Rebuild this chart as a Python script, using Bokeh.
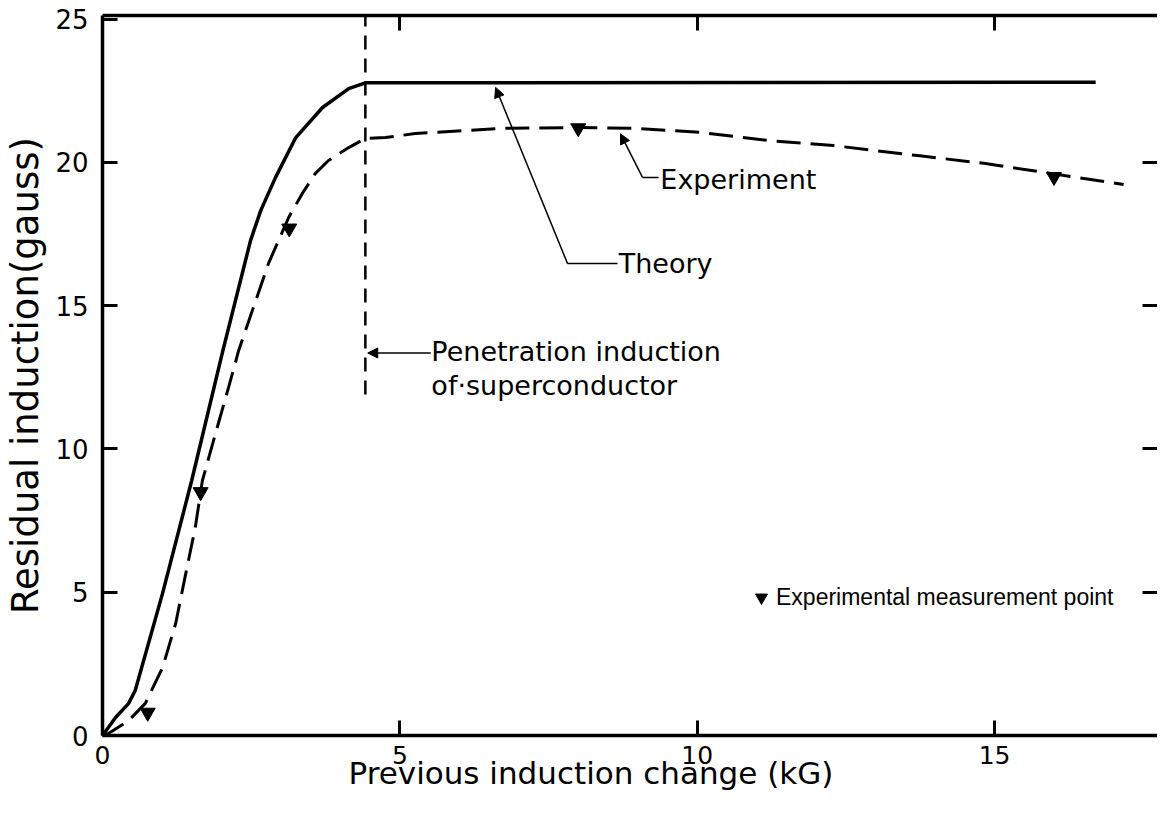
from bokeh.plotting import figure
from bokeh.models import (Range1d, LinearAxis, FixedTicker, Label, Arrow, NormalHead,
                          Legend, LegendItem, Title)
from bokeh.embed import file_html
from bokeh.resources import INLINE

# ---- data ----
theory_x = [0, 0.22, 0.44, 0.55, 1.01, 1.50, 2.02, 2.49, 2.66, 2.91, 3.25, 3.70, 4.14, 4.42, 16.70]
theory_y = [0, 0.63, 1.12, 1.57, 4.96, 8.90, 13.4, 17.28, 18.32, 19.48, 20.87, 21.92, 22.58, 22.78, 22.80]

experiment_x = [0, 0.10, 0.44, 0.72, 1.01, 1.23, 1.40, 1.56, 1.68, 1.90, 2.12, 2.29, 2.79, 3.13,
                3.36, 3.58, 3.80, 4.14, 4.42, 4.76, 5.26, 6.69, 7.99, 8.93, 10.06, 11.18, 12.29,
                13.71, 14.82, 15.94, 17.17]
experiment_y = [0, 0.07, 0.52, 1.12, 2.37, 3.91, 5.65, 7.26, 8.90, 10.54, 12.15, 13.44, 16.47, 18.08,
                18.92, 19.62, 20.07, 20.52, 20.84, 20.87, 21.01, 21.19, 21.22, 21.19, 21.05, 20.77, 20.59,
                20.24, 19.97, 19.62, 19.23]

measured_x = [0.76, 1.65, 3.14, 8.0, 16.0]
measured_y = [0.8, 8.5, 17.7, 21.2, 19.5]

penetration_x = [4.42, 4.42]
penetration_y = [11.9, 25.3]

x_ticks = [0, 5, 10, 15]
y_ticks = [0, 5, 10, 15, 20, 25]

x_title = "Previous induction change (kG)"
y_title = "Residual induction(gauss)"
legend_text = "Experimental measurement point"

FONT = "DejaVu Sans"

p = figure(width=1157, height=801, output_backend="svg", toolbar_location=None,
           x_range=Range1d(0, 17.74), y_range=Range1d(0, 25.13),
           min_border_left=102, min_border_right=0, min_border_top=15, min_border_bottom=66,
           y_axis_label=y_title)
p.grid.visible = False
p.outline_line_color = None
p.background_fill_color = "white"
p.border_fill_color = "white"


def style_axis(ax, ticks, show_labels=True, show_line=True):
    ax.ticker = FixedTicker(ticks=ticks)
    ax.axis_line_width = 3.5
    ax.axis_line_color = "black" if show_line else None
    ax.major_tick_in = 15
    ax.major_tick_out = 0
    ax.major_tick_line_width = 3
    ax.major_tick_line_color = "black"
    ax.minor_tick_line_color = None
    if show_labels:
        ax.major_label_text_font = FONT
        ax.major_label_text_color = "black"
    else:
        ax.major_label_text_font_size = "1px"
        ax.major_label_text_color = None
        ax.major_label_standoff = 0


style_axis(p.xaxis[0], x_ticks)
p.xaxis[0].major_label_text_font_size = "25px"
p.xaxis[0].major_label_standoff = 10

style_axis(p.yaxis[0], y_ticks)
p.yaxis[0].major_label_text_font_size = "26px"
p.yaxis[0].major_label_standoff = 14
p.yaxis[0].axis_label_text_font = FONT
p.yaxis[0].axis_label_text_font_size = "37px"
p.yaxis[0].axis_label_text_font_style = "normal"
p.yaxis[0].axis_label_text_color = "black"
p.yaxis[0].axis_label_standoff = 5

top_axis = LinearAxis()
style_axis(top_axis, [5, 10, 15], show_labels=False)
p.add_layout(top_axis, "above")

right_axis = LinearAxis()
style_axis(right_axis, [5, 10, 15, 20], show_labels=False, show_line=False)
p.add_layout(right_axis, "right")

# x-axis title, set left of centre as in the reference
p.add_layout(Title(text=x_title, align="left", offset=246, vertical_align="top",
                   text_font=FONT, text_font_size="31px", text_font_style="normal",
                   text_color="black", standoff=-24), "below")

# ---- curves ----
p.line(theory_x, theory_y, line_width=3.5, line_color="black")
p.line(experiment_x, experiment_y, line_width=3, line_color="black", line_dash="24 10")
p.line(penetration_x, penetration_y, line_width=2.5, line_color="black", line_dash="14 9")
pts = p.scatter(measured_x, measured_y, marker="inverted_triangle", size=15,
                fill_color="black", line_color="black")

# ---- annotations (leader lines and texts) ----
def head():
    return NormalHead(size=10, fill_color="black", line_color="black", line_width=1)

p.add_layout(Arrow(end=head(), x_start=7.82, y_start=16.47, x_end=6.61, y_end=22.62,
                   line_width=1.5, line_color="black"))
p.add_layout(Arrow(end=None, x_start=7.82, y_start=16.47, x_end=8.66, y_end=16.47,
                   line_width=1.5, line_color="black"))
p.add_layout(Arrow(end=head(), x_start=9.08, y_start=19.48, x_end=8.71, y_end=21.0,
                   line_width=1.5, line_color="black"))
p.add_layout(Arrow(end=None, x_start=9.08, y_start=19.48, x_end=9.35, y_end=19.48,
                   line_width=1.5, line_color="black"))
p.add_layout(Arrow(end=head(), x_start=5.52, y_start=13.35, x_end=4.46, y_end=13.35,
                   line_width=1.5, line_color="black"))

def text(x, y, s):
    p.add_layout(Label(x=x, y=y, text=s, text_font=FONT, text_font_size="27px",
                       text_baseline="middle", text_align="left", text_color="black"))

text(8.68, 16.47, "Theory")
text(9.38, 19.42, "Experiment")
text(5.53, 13.40, "Penetration induction")
text(5.53, 12.20, "of·superconductor")

legend = Legend(items=[LegendItem(label=legend_text, renderers=[pts])],
                location=(644, 123), glyph_width=30, glyph_height=30, label_standoff=0,
                padding=0, margin=0, spacing=0, border_line_color=None,
                background_fill_alpha=0, label_text_font="Liberation Sans",
                label_text_font_size="23px", label_text_color="black", label_height=30)
p.add_layout(legend)

open("out.html", "w").write(file_html(p, INLINE))
